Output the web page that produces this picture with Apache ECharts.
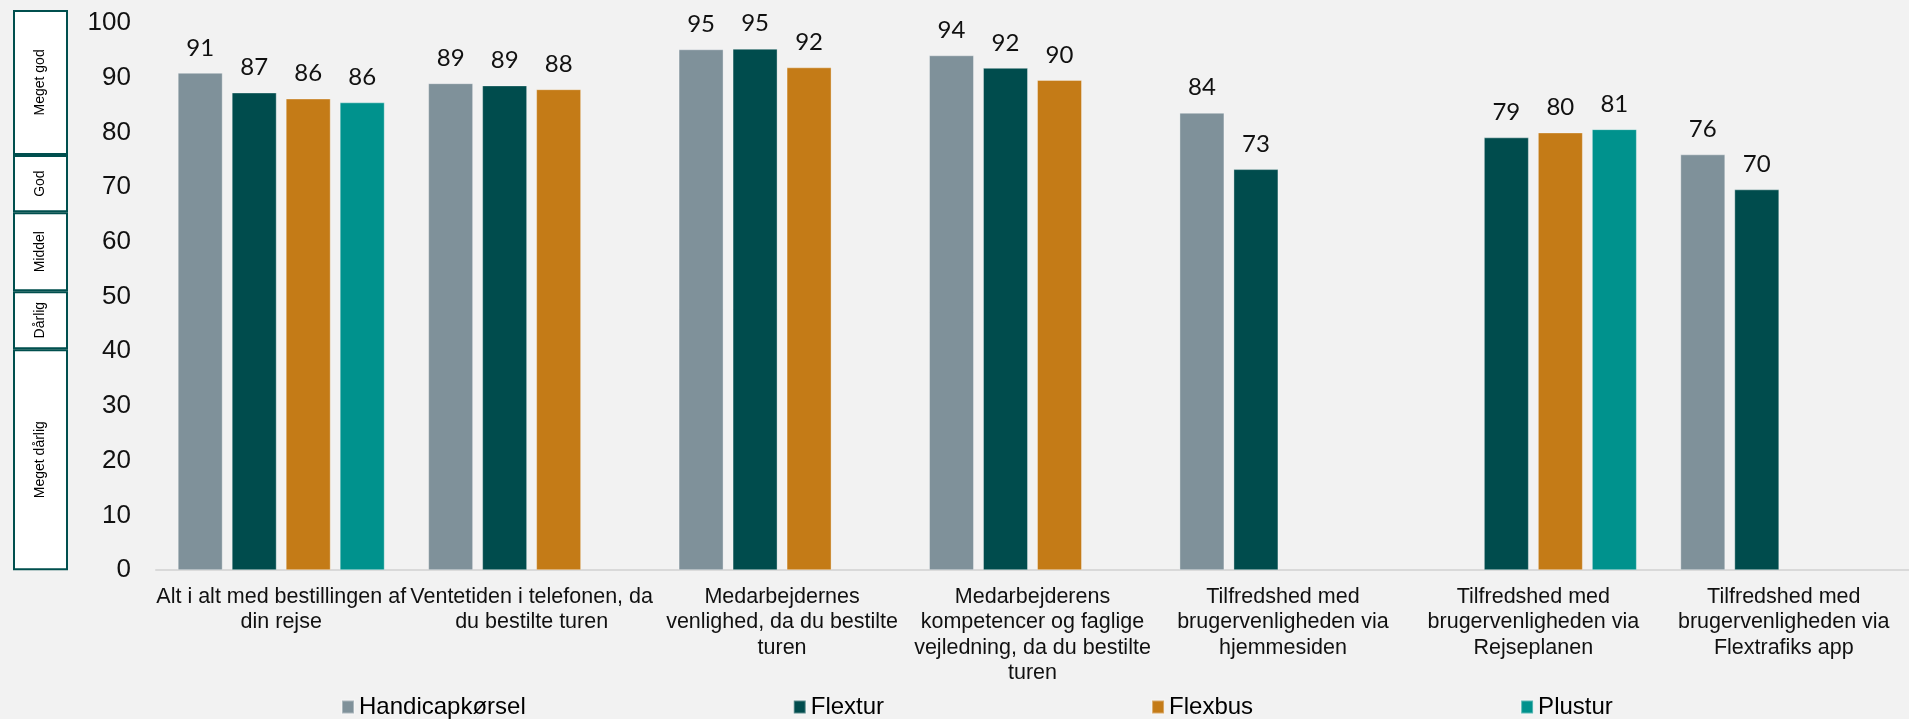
<!DOCTYPE html>
<html>
<head>
<meta charset="utf-8">
<title>Tilfredshed med bestilling</title>
<script src="https://cdn.jsdelivr.net/npm/echarts@6/dist/echarts.min.js"></script>
<style>
  html, body { margin: 0; padding: 0; background: #f2f2f2; }
  #chart { width: 1909px; height: 719px; }
</style>
</head>
<body>
<div id="chart"></div>
<script>
// kategorier (x-akse)
var categories = [
  'Alt i alt med bestillingen af\ndin rejse',
  'Ventetiden i telefonen, da\ndu bestilte turen',
  'Medarbejdernes\nvenlighed, da du bestilte\nturen',
  'Medarbejderens\nkompetencer og faglige\nvejledning, da du bestilte\nturen',
  'Tilfredshed med\nbrugervenligheden via\nhjemmesiden',
  'Tilfredshed med\nbrugervenligheden via\nRejseplanen',
  'Tilfredshed med\nbrugervenligheden via\nFlextrafiks app'
]

var seriesNames = ['Handicapkørsel', 'Flextur', 'Flexbus', 'Plustur']
var handicap = [90.9, 89.0, 95.2, 94.1, 83.6, null, 76.0]
var flextur = [87.3, 88.6, 95.3, 91.8, 73.3, 79.1, 69.6]
var flexbus = [86.2, 87.9, 91.9, 89.6, null, 80.0, null]
var plustur = [85.5, null, null, null, null, 80.6, null]

var yTicks = [0, 10, 20, 30, 40, 50, 60, 70, 80, 90, 100]

// skala-felter til venstre (nederst og op)
var bandNames = ['Meget dårlig', 'Dårlig', 'Middel', 'God', 'Meget god']
var bandHeights = [40.4, 10.6, 14.4, 10.5, 26.5]

var colors = ['#7f919a', '#004c4d', '#c47b17', '#00928d']

var chart = echarts.init(document.getElementById('chart'))

function barSeries(name, data, color) {
    return {
        name: name,
        type: 'bar',
        xAxisIndex: 0,
        yAxisIndex: 0,
        data: data,
        barWidth: 45,
        barGap: '20%',
        itemStyle: {
            color: color,
            borderColor: 'rgba(255,255,255,0.35)',
            borderWidth: 1
        },
        label: {
            show: true,
            position: 'top',
            distance: 13,
            fontFamily: 'Lato',
            fontSize: 24,
            color: '#111',
            formatter: function (p) {
                return p.value == null ? '' : Math.round(p.value)
            }
        }
    }
}

var series = [
    barSeries(seriesNames[0], handicap, colors[0]),
    barSeries(seriesNames[1], flextur, colors[1]),
    barSeries(seriesNames[2], flexbus, colors[2]),
    barSeries(seriesNames[3], plustur, colors[3])
]

// felterne tegnes som stablet søjle i et lille grid
for (var i = 0; i < bandNames.length; i++) {
    series.push({
        name: bandNames[i],
        type: 'bar',
        xAxisIndex: 1,
        yAxisIndex: 1,
        stack: 'band',
        barWidth: 55,
        silent: true,
        data: [bandHeights[i]],
        itemStyle: { color: '#ffffff', borderColor: '#004f4e', borderWidth: 2 },
        label: {
            show: true,
            position: 'inside',
            rotate: 90,
            formatter: bandNames[i],
            fontFamily: 'Liberation Sans',
            fontSize: 14,
            color: '#000'
        }
    })
}

chart.setOption({
    backgroundColor: '#f2f2f2',
    animation: false,
    textStyle: { fontFamily: 'Liberation Sans' },
    legend: {
        data: seriesNames,
        left: 336,
        top: 690,
        itemWidth: 12,
        itemHeight: 13,
        itemGap: 267,
        icon: 'rect',
        textStyle: { fontSize: 24, color: '#000', fontFamily: 'Liberation Sans' }
    },
    grid: [
        { left: 156, right: -15, top: 23, bottom: 148.8 },
        { left: 13, width: 55, top: 9.9, bottom: 148.8 }
    ],
    xAxis: [
        {
            type: 'category',
            gridIndex: 0,
            data: categories,
            axisLine: { lineStyle: { color: '#d9d9d9', width: 2 } },
            axisTick: { show: false },
            axisLabel: {
                interval: 0,
                margin: 14,
                fontSize: 21.5,
                lineHeight: 25.5,
                color: '#111',
                fontFamily: 'Liberation Sans'
            }
        },
        { type: 'category', gridIndex: 1, data: [''], show: false }
    ],
    yAxis: [
        {
            type: 'value',
            gridIndex: 0,
            min: yTicks[0],
            max: yTicks[yTicks.length - 1],
            interval: 10,
            axisLine: { show: false },
            axisTick: { show: false },
            splitLine: { show: false },
            axisLabel: { margin: 25, fontSize: 26, color: '#111', fontFamily: 'Liberation Sans' }
        },
        { type: 'value', gridIndex: 1, min: 0, max: 102.4, show: false }
    ],
    series: series
})
</script>
</body>
</html>
